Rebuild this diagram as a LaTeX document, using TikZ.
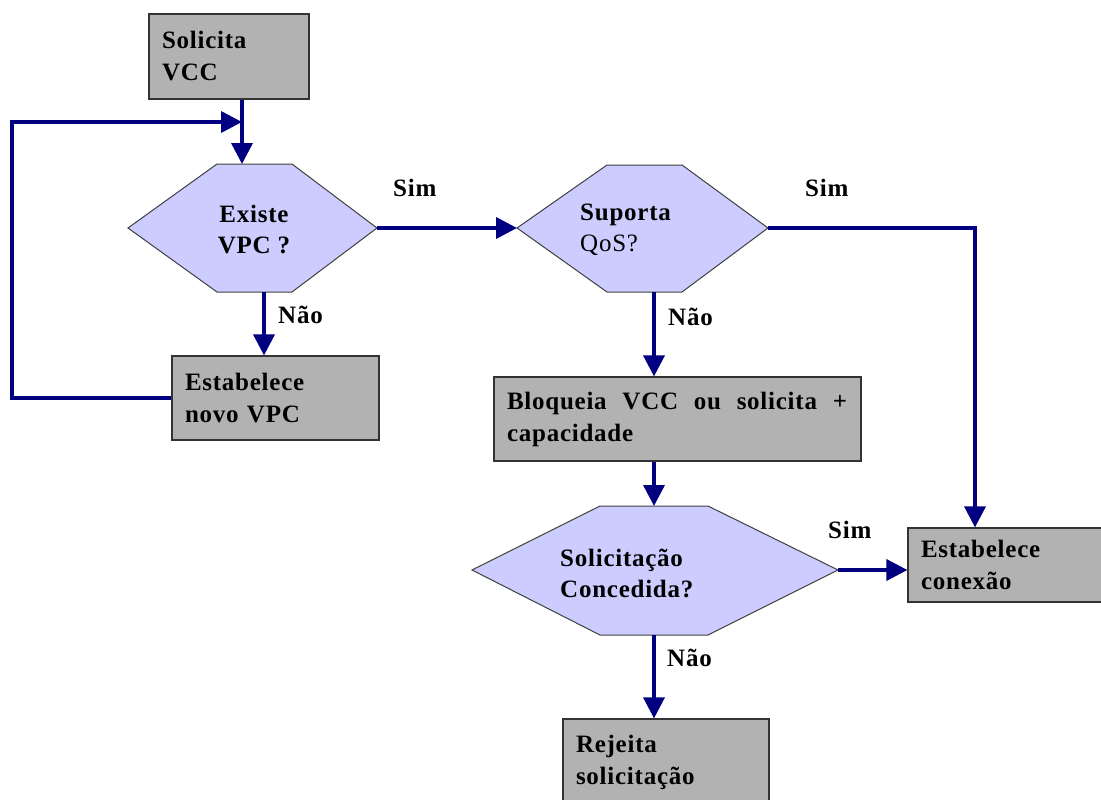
\documentclass[tikz,border=0pt]{standalone}
\usepackage{fontspec}
\setmainfont{Liberation Serif}[LetterSpace=3]
\usetikzlibrary{arrows.meta}
\definecolor{boxgray}{HTML}{B2B2B2}
\definecolor{hexblue}{HTML}{CCCCFF}
\definecolor{navyblue}{HTML}{000080}
\begin{document}
\begin{tikzpicture}[x=1pt,y=-1pt,
  box/.style={draw=black!80, line width=1.2pt, fill=boxgray, align=left, inner xsep=13pt, inner ysep=0pt, font=\bfseries\fontsize{25}{32}\selectfont},
  hexa/.style={draw=black!75, line width=1pt, fill=hexblue},
  htext/.style={font=\bfseries\fontsize{25}{31}\selectfont, inner sep=0pt},
  lab/.style={font=\bfseries\fontsize{25}{30}\selectfont, inner sep=0pt, anchor=base west},
  flow/.style={draw=navyblue, line width=3.5pt, -{Triangle[length=21pt,width=21pt]}}]
\clip (0,0) rectangle (1101,800);
\fill[white] (0,0) rectangle (1101,800);

% process boxes
\node[box, text width=134pt, minimum height=85pt] (solicita) at (229,56.5) {Solicita\\VCC};
\node[box, text width=181pt, minimum height=84pt] (novo) at (275.5,398) {Estabelece\\novo VPC};
\node[box, text width=341pt, minimum height=84pt] (bloq) at (677.5,419) {\hbox to 340pt{Bloqueia\hfill VCC\hfill ou\hfill solicita\hfill +}\\capacidade};
\node[box, text width=182pt, minimum height=74pt] (conex) at (1012,565) {Estabelece\\conexão};
\node[box, text width=180pt, minimum height=86pt] (rejeita) at (666,762) {Rejeita\\solicitação};

% decision hexagons
\coordinate (h1l) at (128,228);
\coordinate (h1r) at (377,228);
\coordinate (h1t) at (242,164);
\coordinate (h1b) at (264,292);
\draw[hexa] (h1l) -- (217,164) -- (292,164) -- (h1r) -- (292,292) -- (217,292) -- cycle;
\node[htext, align=center] (t1) at (254,230) {Existe\\VPC ?};

\coordinate (h2l) at (517,228);
\coordinate (h2r) at (768,228);
\coordinate (h2b) at (654,292);
\draw[hexa] (h2l) -- (607,165) -- (682,165) -- (h2r) -- (682,292) -- (607,292) -- cycle;
\node[htext, align=left, anchor=west] (t2) at (580,230) {Suporta\\{\mdseries QoS?}};

\coordinate (h3l) at (472,570);
\coordinate (h3r) at (838,570);
\coordinate (h3t) at (654,506);
\coordinate (h3b) at (654,635);
\draw[hexa] (h3l) -- (600,506) -- (708,506) -- (h3r) -- (708,635) -- (600,635) -- cycle;
\node[htext, align=left, anchor=west] (t3) at (560,573) {Solicitação\\Concedida?};

% helper points
\coordinate (loopx) at (12,122);
\coordinate (c975) at (975,228);

% connectors
\draw[flow] (solicita.south -| h1t) -- (h1t);
\draw[flow] (novo.west) -| (loopx) -- (loopx -| h1t);
\draw[flow] (h1b) -- (h1b |- novo.north);
\draw[flow] (h1r) -- (h2l);
\draw[flow] (h2r) -- (c975) -- (c975 |- conex.north);
\draw[flow] (h2b) -- (h2b |- bloq.north);
\draw[flow] (bloq.south -| h3t) -- (h3t);
\draw[flow] (h3r) -- (h3r -| conex.west);
\draw[flow] (h3b) -- (h3b |- rejeita.north);

% labels
\node[lab] (sim1) at (393,196) {Sim};
\node[lab] (sim2) at (805,196) {Sim};
\node[lab] (sim3) at (828,538) {Sim};
\node[lab] (nao1) at (278,323) {Não};
\node[lab] (nao2) at (668,325) {Não};
\node[lab] (nao3) at (667,666) {Não};
\end{tikzpicture}
\end{document}
